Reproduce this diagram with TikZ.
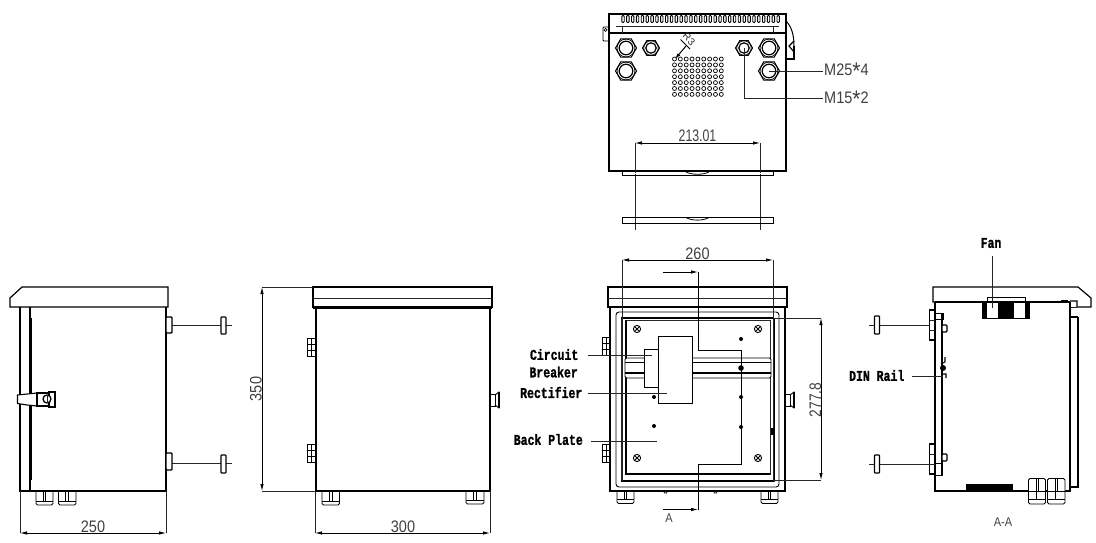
\documentclass[tikz,border=0pt]{standalone}
\usepackage{fontspec}
\setmainfont{Liberation Sans}
\newfontfamily\labelfont[UprightFont={* Bold},FakeBold=1.3]{Liberation Mono}
\usetikzlibrary{arrows.meta}
\tikzset{
 thinl/.style={line width=0.8pt,black!85},
 med/.style={line width=1.2pt,black},
 heavy/.style={line width=2pt,black},
 dimline/.style={line width=0.8pt,black,{Latex[length=7pt,width=3.5pt]}-{Latex[length=7pt,width=3.5pt]}},
 secarrow/.style={line width=0.8pt,black,-{Latex[length=7pt,width=3.5pt]}},
 dimtext/.style={font=\fontsize{14.5}{14.5}\selectfont,inner sep=0pt,text=black!75},
 smalltext/.style={font=\fontsize{11}{11}\selectfont,inner sep=0pt,text=black!75},
 boldlabel/.style={font=\fontsize{11.5}{11.5}\selectfont\labelfont,inner sep=0pt},
 whitebox/.style={fill=white,draw=black,line width=0.9pt},
}
\newcommand{\tall}[1]{\scalebox{1}[1.15]{#1}}
\newcommand{\tallb}[1]{\scalebox{1}[1.3]{#1}}
\newcommand{\bigast}{\raisebox{-3.4pt}{\fontsize{21}{21}\selectfont *}}
\newcommand{\hexnut}[4]{%
 \draw[line width=1pt,black] (#1+#3,#2)--(#1+#3*0.5,#2-#3*0.87)--(#1-#3*0.5,#2-#3*0.87)--(#1-#3,#2)--(#1-#3*0.5,#2+#3*0.87)--(#1+#3*0.5,#2+#3*0.87)--cycle;
 \draw[line width=0.7pt,black] (#1,#2) circle ({#3*0.85});
 \draw[line width=1.2pt,black] (#1,#2) circle (#4);
}
\newcommand{\gland}[4]{%
 \draw[line width=0.9pt,black,rounded corners=1.5pt] (#1,#3)--(#1,#4)--(#2,#4)--(#2,#3);
 \draw[line width=0.7pt,black] (#1,{#4-4})--(#2,{#4-4});
 \draw[line width=0.8pt,black] ({#1+(#2-#1)*0.42},#3)--({#1+(#2-#1)*0.42},{#4-4});
 \draw[line width=0.8pt,black] ({#1+(#2-#1)*0.58},#3)--({#1+(#2-#1)*0.58},{#4-4});
}
\newcommand{\hingeblock}[4]{%
 \draw[line width=0.9pt,black] (#1,#3) rectangle (#2,#4);
 \draw[line width=0.8pt,black] ({(#1+#2)/2},#3)--({(#1+#2)/2},#4);
 \draw[line width=0.8pt,black] (#1,{#3+(#4-#3)/3})--(#2,{#3+(#4-#3)/3});
 \draw[line width=0.8pt,black] (#1,{#3+2*(#4-#3)/3})--(#2,{#3+2*(#4-#3)/3});
}
\newcommand{\xscrew}[2]{%
 \draw[line width=0.9pt,black] (#1,#2) circle (3.6);
 \draw[line width=0.8pt,black] (#1-2.4,#2-2.4)--(#1+2.4,#2+2.4) (#1-2.4,#2+2.4)--(#1+2.4,#2-2.4);
}
\newcommand{\latchR}[1]{%
 \draw[line width=0.9pt,black] (#1,394)--(#1+5,394)--(#1+5,406)--(#1,406);
 \draw[line width=0.9pt,black] (#1+5,395)--(#1+9,392)--(#1+9,408)--(#1+5,405);
 \draw[line width=1.8pt,black] (#1+9.2,392)--(#1+9.2,408);
}
\begin{document}
\begin{tikzpicture}[x=1pt,y=-1pt]
\useasboundingbox (0,0) rectangle (1096,543);

%%%% TOP VIEW
\draw[med] (609,33)--(609,14)--(786,14)--(786,33);
\draw[heavy] (609,33)--(609,171)--(786,171)--(786,33);
\draw[heavy] (609,33)--(786,33);
\draw[thinl] (616,26)--(779,26);
\draw[thinl] (622,26)--(622,33) (773,26)--(773,33);
\foreach \i in {0,...,32}{
 \draw[line width=0.9pt,black,rounded corners=0.9pt] ({623+\i*4.85-1.2},15.5) rectangle ({623+\i*4.85+1.2},22.5);
}
\draw[line width=0.9pt,rounded corners=1pt] (609,27)--(603,27)--(603,41)--(609,41);
\draw[line width=0.7pt] (605.5,30) circle (1.5);
\draw[line width=1pt] (786,21) .. controls (792,27) and (794,36) .. (794,46);
\draw[line width=1.6pt] (794,46)--(794,59)--(786,59);
\draw[line width=1.1pt] (794,41)--(789,46)--(794,52);
\hexnut{626}{48}{10.5}{6.8}
\hexnut{626}{71}{10.5}{6.8}
\hexnut{769}{48}{10.5}{6.8}
\hexnut{769}{71}{10.5}{6.8}
\hexnut{651}{48}{8.5}{5.2}
\hexnut{744}{48}{8.5}{5.2}
\foreach \r in {0,...,6}{\foreach \c in {0,...,8}{
 \draw[line width=0.7pt,black] ({674.5+\c*5.85},{59+\r*5.9}) circle (2);
}}
\coordinate (tagA) at (675,59);
\coordinate (tagB) at (686,46);
\draw[-{Latex[length=6pt,width=3.5pt]},line width=1pt] (tagB)--(tagA);
\draw[line width=0.8pt] (680.5,39.5)--(690,49);
\node[font=\fontsize{10}{10}\selectfont,inner sep=0pt,rotate=-45,text=black!85] (tag) at (689,39) {R3};
\coordinate (m25a) at (769,71);
\coordinate (m25b) at (823,71);
\coordinate (m15a) at (744,48);
\coordinate (m15b) at (744,98);
\coordinate (m15c) at (823,98);
\draw[thinl] (m25a)--(m25b);
\draw[thinl] (m15a)--(m15b)--(m15c);
\node[dimtext,anchor=west] (m25) at (824,71.5) {\tall{M25\bigast4}};
\node[dimtext,anchor=west] (m15) at (824,99.5) {\tall{M15\bigast2}};
\draw[thinl] (635,143)--(635,230) (760,143)--(760,230);
\fill[white] (621,172.5) rectangle (774,174);
\draw[line width=0.9pt] (622,171)--(622,175)--(773,175)--(773,171);
\draw[line width=0.8pt] (686,172) .. controls (692,175) and (703,175) .. (709,172);
\draw[line width=0.9pt] (622,217.5) rectangle (773,223.5);
\draw[line width=0.8pt] (686,217.5) .. controls (692,221) and (703,221) .. (709,217.5);
\draw[dimline] (635,143)--(760,143);
\node[dimtext] (d213) at (697.5,136) {\scalebox{0.85}[1.15]{213.01}};

%%%% LEFT VIEW
\draw[med] (10,307)--(10,298)--(22,287)--(168,287)--(168,307)--cycle;
\draw[med] (20,307)--(20,491)--(166,491)--(166,307);
\draw[med] (30,307)--(30,491);
\draw[heavy] (31,318)--(31,480);
\coordinate (lp1) at (172,325); \coordinate (lp2) at (232,325);
\coordinate (lp3) at (172,463.5); \coordinate (lp4) at (232,463.5);
\draw[thinl] (lp1)--(lp2) (lp3)--(lp4);
\draw[line width=1.4pt,fill=white,rounded corners=0.8pt] (166,317) rectangle (172,333);
\draw[line width=1.4pt,fill=white,rounded corners=0.8pt] (166,453) rectangle (172,470);
\draw[line width=1.1pt,fill=white,rounded corners=0.6pt] (221,317) rectangle (226,334);
\draw[line width=1.1pt,fill=white,rounded corners=0.6pt] (221,455) rectangle (226,473);
\draw[line width=1.1pt,fill=white] (17.5,395)--(37,393)--(37,406)--(27,405)--(17.5,403.5)--cycle;
\draw[line width=1.4pt,fill=white] (37,393) rectangle (49,406);
\draw[line width=1.2pt,fill=white] (49,392) rectangle (55,407);
\draw[line width=1.3pt,fill=white] (47,399) circle (4);
\draw[thinl] (47,395)--(47,403);
\gland{36}{53}{491}{505}
\gland{58.5}{76}{491}{505}
\draw[thinl] (20,491)--(20,533) (166,491)--(166,533);
\draw[dimline] (20,533)--(166,533);
\node[dimtext] (d250) at (93,526.5) {\tall{250}};

%%%% MIDDLE VIEW
\draw[med] (313,287) rectangle (492,307);
\draw[thinl] (313,298)--(492,298);
\draw[heavy] (313,307.5)--(492,307.5);
\draw[med] (316,308) rectangle (490,491);
\hingeblock{307.5}{316}{338}{356}
\hingeblock{307.5}{316}{444}{462}
\latchR{490}
\gland{322}{339.5}{491}{505}
\gland{466}{484}{491}{504}
\draw[thinl] (262,287)--(313,287) (262,491)--(316,491);
\draw[dimline] (262,287)--(262,491);
\node[dimtext,rotate=90] (d350) at (256,389) {\tall{350}};
\draw[thinl] (315,491)--(315,533) (490,491)--(490,533);
\draw[dimline] (315,533)--(490,533);
\node[dimtext] (d300) at (403,526.5) {\tall{300}};

%%%% FRONT INTERIOR VIEW
\draw[med] (608,287) rectangle (787,307);
\draw[thinl] (608,298)--(787,298);
\draw[heavy] (609,307)--(786,307);
\draw[med] (610,307) rectangle (785,491);
\draw[line width=0.9pt,rounded corners=3pt] (616,312) rectangle (779,487);
\draw[thinl] (621,318) rectangle (774,481);
\draw[heavy] (621,318)--(774,318) (621,481)--(774,481) (774,318)--(774,481);
\draw[thinl] (626,320) rectangle (770,474);
\draw[heavy] (626,320)--(626,474)--(770,474);
\draw[thinl] (622,260)--(622,481) (773,260)--(773,481);
\draw[line width=0.9pt,fill=white,rounded corners=1.5pt] (625,358) rectangle (771,378);
\draw[line width=1.1pt] (625,362.5)--(771,362.5) (625,373)--(771,373);
\hingeblock{602}{610}{337}{355}
\hingeblock{602}{610}{444}{462}
\latchR{785}
\gland{617}{634}{491}{503.5}
\gland{761}{778}{491}{503.5}
\draw[line width=0.8pt] (663.5,491)--(664.5,493)--(666.5,493)--(667.5,491);
\draw[line width=0.8pt] (713.5,491)--(714.5,493)--(716.5,493)--(717.5,491);
\xscrew{637}{329}\xscrew{758}{329}\xscrew{637}{458}\xscrew{758}{458}
\foreach \p/\r in {741/339,741/397,741/427,654/397,654/426}{
 \fill (\p,\r) circle (2);
}
\fill (741,368) circle (2.8);
\fill (770.5,428) rectangle (773.5,435);
\coordinate (s0) at (663,272);\coordinate (s1) at (698,272);\coordinate (s2) at (698,350);
\coordinate (s3) at (741,350);\coordinate (s4) at (741,464);\coordinate (s5) at (698,464);
\coordinate (s6) at (698,509.5);\coordinate (s7) at (663,509.5);
\draw[line width=0.9pt] (s1)--(s2)--(s3)--(s4)--(s5)--(s6);
\draw[secarrow] (s0)--(s1);
\draw[secarrow] (s7)--(s6);
\node[smalltext] (secA) at (669,518.5) {\tall{A}};
\draw[whitebox] (644.5,349) rectangle (658,387);
\draw[whitebox] (658,336) rectangle (692,403);
\draw[dimline] (622,260)--(773,260);
\node[dimtext] (d260) at (697.5,254) {\tall{260}};
\draw[thinl] (774,318)--(821,318) (774,480)--(821,480);
\draw[dimline] (821,318)--(821,480);
\node[dimtext,rotate=90] (d277) at (815.5,400) {\scalebox{0.95}[1.15]{277.8}};
\node[boldlabel,anchor=east] (lcb) at (578.5,354.5) {\tallb{Circuit}};
\node[boldlabel,anchor=east] (lbr) at (578,372) {\tallb{Breaker}};
\node[boldlabel,anchor=east] (lre) at (582.5,392.5) {\tallb{Rectifier}};
\node[boldlabel,anchor=east] (lbp) at (583,439.5) {\tallb{Back Plate}};
\coordinate (c1) at (588,355);\coordinate (c2) at (652,355);
\coordinate (r1) at (588,393);\coordinate (r2) at (667,393);
\coordinate (b1) at (591,441);\coordinate (b2) at (657,441);
\draw[thinl] (c1)--(c2) (r1)--(r2) (b1)--(b2);

%%%% RIGHT SECTION VIEW
\draw[med] (935,302)--(933,302)--(933,287)--(1078,287)--(1091,298)--(1091,307)--(1077,307)--(1077,301)--(1070,301);
\draw[med] (935,302)--(1070,302);
\draw[med] (935,302)--(935,491)--(1070,491)--(1070,302);
\draw[thinl] (1070,307)--(1077,307);
\draw[med] (1070,317)--(1078,317);
\draw[med] (1078,317)--(1078,487)--(1070,487);
\draw[line width=0.9pt] (987,302)--(987,297)--(1025,297)--(1025,302);
\draw[line width=1pt] (982,302) rectangle (1029,318);
\fill (982,302) rectangle (987,318);
\fill (998,302) rectangle (1014,318);
\fill (1025,302) rectangle (1029,318);
\fill (943,301) rectangle (947,302.5);
\fill (1061,300) rectangle (1068,302.5);
\coordinate (f1) at (992,256);\coordinate (f2) at (992,308);
\draw[thinl] (f1)--(f2);
\node[boldlabel] (lfan) at (991,243) {\tallb{Fan}};
\draw[line width=1.4pt] (929.5,310) rectangle (935,340);
\draw[line width=1.4pt] (929.5,444) rectangle (935,474);
\draw[thinl] (929.5,320)--(935,320) (929.5,330)--(935,330) (929.5,454)--(935,454) (929.5,464)--(935,464);
\draw[line width=1.7pt] (942,313)--(942,475);
\draw[line width=0.9pt] (935,313) rectangle (943,319);
\draw[line width=0.9pt] (935,463) rectangle (942,475);
\draw[line width=1.1pt,fill=white,rounded corners=1pt] (942,325) rectangle (947,332);
\draw[line width=1.1pt,fill=white,rounded corners=1pt] (942,454) rectangle (947,461);
\draw[line width=1.1pt] (945,357)--(945,362)--(941,364) (941,374)--(946,374)--(946,378);
\fill (943,368) circle (3);
\coordinate (rp1) at (869,325);\coordinate (rp2) at (929.5,325);
\coordinate (rp3) at (869,464);\coordinate (rp4) at (929.5,464);
\draw[thinl] (rp1)--(rp2) (rp3)--(rp4);
\draw[line width=1.1pt,fill=white,rounded corners=0.6pt] (874.5,316) rectangle (879.5,334);
\draw[line width=1.1pt,fill=white,rounded corners=0.6pt] (874.5,455) rectangle (879.5,473);
\coordinate (dr1) at (912,376);\coordinate (dr2) at (943,376);
\draw[thinl] (dr1)--(dr2);
\node[boldlabel,anchor=east] (ldin) at (904.5,375.5) {\tallb{DIN Rail}};
\fill (966,483.5) rectangle (1013,491);
\foreach \a/\b in {1028.5/1045.5,1047.5/1065}{
 \draw[line width=0.9pt,rounded corners=1.5pt,fill=white] (\a,478.5) rectangle (\b,504);
 \draw[line width=0.9pt] (\a,491)--(\b,491) (\a,499)--(\b,499);
 \draw[line width=0.9pt] ({(\a+\b)/2-1},478.5)--({(\a+\b)/2-1},499);
 \draw[line width=0.9pt] ({(\a+\b)/2+1},478.5)--({(\a+\b)/2+1},491);
}
\node[smalltext] (secAA) at (1003,522) {\tall{A-A}};
\end{tikzpicture}
\end{document}
